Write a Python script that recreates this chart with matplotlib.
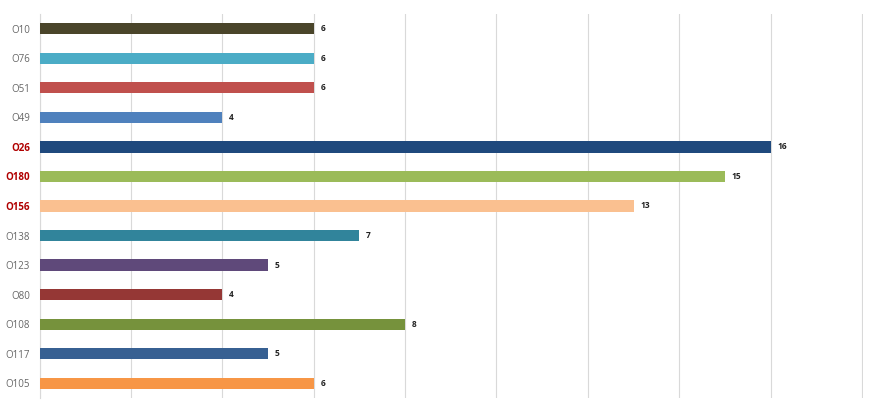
import matplotlib.pyplot as plt

# data (top to bottom)
labels = ['O10', 'O76', 'O51', 'O49', 'O26', 'O180', 'O156',
          'O138', 'O123', 'O80', 'O108', 'O117', 'O105']
values = [6, 6, 6, 4, 16, 15, 13, 7, 5, 4, 8, 5, 6]
colors = ['#4a452a', '#4bacc6', '#c0504d', '#4f81bd', '#1f497d', '#9bbb59',
          '#fac090', '#31849b', '#5f497a', '#953735', '#76923c', '#376092',
          '#f79646']
highlight = ['O26', 'O180', 'O156']

plt.rcParams['font.family'] = ['Open Sans', 'DejaVu Sans']

fig = plt.figure(figsize=(8.77, 4.12), dpi=100)
ax = fig.add_axes([39.5 / 877, 1 - 398 / 412, (863 - 39.5) / 877, 384 / 412])

y = list(range(len(labels)))
ax.barh(y, values, height=0.38, color=colors, zorder=3)

for yi, v in zip(y, values):
    ax.text(v + 0.15, yi, str(v), va='center', ha='left', fontsize=6,
            fontweight='bold', color='#222222')

ax.set_xlim(0, 18.02)
ax.set_ylim(len(labels) - 0.5, -0.5)
ax.set_xticks(range(0, 19, 2))
ax.set_xticklabels([])
ax.tick_params(axis='x', length=0)
ax.grid(axis='x', color='#d9d9d9', linewidth=0.8, zorder=0)

ax.set_yticks(y)
ax.set_yticklabels(labels)
ax.tick_params(axis='y', length=0, pad=7, labelsize=7)
for t in ax.get_yticklabels():
    if t.get_text() in highlight:
        t.set_color('#b00000')
        t.set_fontweight('bold')
    else:
        t.set_color('#666666')

for s in ['top', 'right', 'bottom']:
    ax.spines[s].set_visible(False)
ax.spines['left'].set_color('#d9d9d9')

fig.savefig('out.png', dpi=100)
